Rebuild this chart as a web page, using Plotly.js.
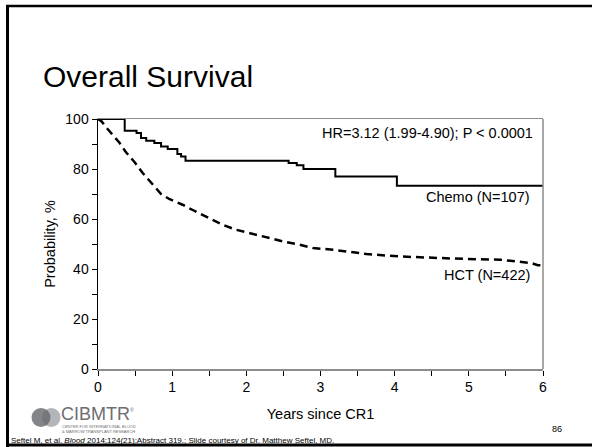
<!DOCTYPE html>
<html>
<head>
<meta charset="utf-8">
<script src="https://cdn.plot.ly/plotly-3.0.1.min.js"></script>
<style>
  html, body { margin: 0; padding: 0; background: #fff; }
  #chart { width: 592px; height: 447px; }
</style>
</head>
<body>
<div id="chart"></div>
<script>
// Chemo (solid, Kaplan-Meier step curve)
var chemoYears = [0, 0.29, 0.36, 0.52, 0.58, 0.65, 0.76, 0.85, 0.94, 1.07, 1.12, 1.18, 2.57, 2.68, 2.77, 3.2, 4.03, 6];
var chemoSurv  = [100, 100, 95.3, 94.4, 92.4, 91.3, 90.4, 89, 88, 86, 85, 83.3, 82.4, 81.5, 80, 77, 73.3, 73.3];

// HCT (dashed)
var hctYears = [0, 0.05, 0.1, 0.17, 0.29, 0.37, 0.5, 0.6, 0.72, 0.85, 0.96, 1.14, 1.27, 1.45, 1.68, 1.86, 2.13, 2.5, 2.72, 2.9, 3.17, 3.62, 4.07, 4.52, 4.97, 5.43, 5.84, 5.93, 6.0];
var hctSurv  = [100, 99, 97, 94.5, 90.5, 87, 82.5, 78.5, 74.5, 70, 68, 65.7, 63.7, 61, 57.7, 55.7, 53.7, 51, 49.7, 48.4, 47.7, 46, 45, 44.4, 44, 43.7, 42.4, 41.5, 41.5];

var xTickVals = [0, 1, 2, 3, 4, 5, 6];
var xTickText = ['0', '1', '2', '3', '4', '5', '6'];
var yTickVals = [0, 20, 40, 60, 80, 100];
var yTickText = ['0', '20', '40', '60', '80', '100'];

var chartTitle = 'Overall Survival';
var xTitle = 'Years since CR1';
var yTitle = 'Probability, %';
var hrText = 'HR=3.12 (1.99-4.90); P < 0.0001';
var chemoLabel = 'Chemo (N=107)';
var hctLabel = 'HCT (N=422)';
var logoName = 'CIBMTR';
var logoSub1 = 'CENTER FOR INTERNATIONAL BLOOD';
var logoSub2 = '&amp; MARROW TRANSPLANT RESEARCH';
var footnote = 'Seftel M, et al. <i>Blood</i> 2014;124(21):Abstract 319.; Slide courtesy of Dr. Matthew Seftel, MD.';
var slideNumber = '86';

var FONT = 'Liberation Sans, Arial, Helvetica, sans-serif';

var traces = [
  {
    x: chemoYears, y: chemoSurv, type: 'scatter', mode: 'lines', name: chemoLabel,
    line: { color: '#000', width: 2, shape: 'hv' }, hoverinfo: 'skip'
  },
  {
    x: hctYears, y: hctSurv, type: 'scatter', mode: 'lines', name: hctLabel,
    line: { color: '#000', width: 2.5, dash: '8px,5px', shape: 'linear' }, hoverinfo: 'skip'
  }
];

// paper-coordinate helpers (plot area: x 98..543 px, y 119..369 px)
function px(x) { return (x - 98) / 445; }
function py(y) { return (369 - y) / 250; }

var layout = {
  width: 592, height: 447,
  margin: { l: 98, r: 49, t: 119, b: 78 },
  paper_bgcolor: '#fff', plot_bgcolor: '#fff',
  showlegend: false,
  font: { family: FONT, color: '#000', size: 14 },
  title: {
    text: chartTitle,
    font: { family: FONT, size: 30, color: '#000' },
    xref: 'container', yref: 'container',
    x: 43 / 592, xanchor: 'left',
    y: 1 - 76 / 447, yanchor: 'middle'
  },
  xaxis: {
    range: [0, 6], tickvals: xTickVals, ticktext: xTickText,
    ticks: 'outside', ticklen: 5, tickcolor: '#000', tickwidth: 1,
    minor: { dtick: 0.5, tick0: 0, ticks: 'outside', ticklen: 5, tickcolor: '#000', tickwidth: 1, showgrid: false },
    showline: true, linecolor: '#8c8c8c', linewidth: 1.5, mirror: true,
    showgrid: false, zeroline: false,
    tickfont: { family: FONT, size: 14, color: '#000' },
    title: { text: xTitle, font: { family: FONT, size: 14.5, color: '#000' }, standoff: 14 },
    automargin: false, fixedrange: true
  },
  yaxis: {
    range: [0, 100], tickvals: yTickVals, ticktext: yTickText,
    ticks: 'outside', ticklen: 5, tickcolor: '#000', tickwidth: 1,
    minor: { dtick: 10, tick0: 0, ticks: 'outside', ticklen: 5, tickcolor: '#000', tickwidth: 1, showgrid: false },
    showline: true, linecolor: '#000', linewidth: 1.5,
    showgrid: false, zeroline: false,
    tickfont: { family: FONT, size: 14, color: '#000' },
    title: { text: yTitle, font: { family: FONT, size: 14.5, color: '#000' }, standoff: 6 },
    automargin: false, fixedrange: true
  },
  shapes: [
    // right frame of plot box (gray)
    { type: 'line', xref: 'paper', yref: 'paper', x0: 1, x1: 1, y0: 0, y1: 1, line: { color: '#8c8c8c', width: 1.5 } },
    // slide border: left, top, bottom
    { type: 'line', xref: 'paper', yref: 'paper', x0: px(7.5), x1: px(7.5), y0: py(5), y1: py(447), line: { color: '#000', width: 3 } },
    { type: 'line', xref: 'paper', yref: 'paper', x0: px(6), x1: px(600), y0: py(6), y1: py(6), line: { color: '#000', width: 2.5 } },
    { type: 'line', xref: 'paper', yref: 'paper', x0: px(6), x1: px(600), y0: py(445), y1: py(445), line: { color: '#000', width: 3 } },
    // CIBMTR logo circles
    { type: 'circle', xref: 'paper', yref: 'paper', x0: px(42), x1: px(60.5), y0: py(408), y1: py(427), fillcolor: '#b3b5b8', line: { width: 0 } },
    { type: 'circle', xref: 'paper', yref: 'paper', x0: px(31.5), x1: px(50.5), y0: py(408), y1: py(427), fillcolor: 'rgba(100,102,106,0.8)', line: { width: 0 } }
  ],
  annotations: [
    { text: hrText, xref: 'paper', yref: 'paper', x: px(535), y: py(132.5), xanchor: 'right', yanchor: 'middle', showarrow: false, font: { family: FONT, size: 14.5, color: '#000' } },
    { text: chemoLabel, xref: 'paper', yref: 'paper', x: px(532), y: py(196.5), xanchor: 'right', yanchor: 'middle', showarrow: false, font: { family: FONT, size: 14.5, color: '#000' } },
    { text: hctLabel, xref: 'paper', yref: 'paper', x: px(532), y: py(275), xanchor: 'right', yanchor: 'middle', showarrow: false, font: { family: FONT, size: 14.5, color: '#000' } },
    // logo wordmark and its two small lines
    { text: logoName, xref: 'paper', yref: 'paper', x: px(59.5), y: py(414.3), xanchor: 'left', yanchor: 'middle', showarrow: false, borderpad: 0, font: { family: FONT, size: 18, color: '#6d6e71' } },
    { text: logoSub1, xref: 'paper', yref: 'paper', x: px(60.5), y: py(426.8), xanchor: 'left', yanchor: 'middle', showarrow: false, borderpad: 0, font: { family: FONT, size: 4, color: '#6d6e71' } },
    { text: logoSub2, xref: 'paper', yref: 'paper', x: px(60.5), y: py(431.2), xanchor: 'left', yanchor: 'middle', showarrow: false, borderpad: 0, font: { family: FONT, size: 4, color: '#6d6e71' } },
    { text: '®', xref: 'paper', yref: 'paper', x: px(132), y: py(410), xanchor: 'center', yanchor: 'middle', showarrow: false, borderpad: 0, font: { family: FONT, size: 5, color: '#6d6e71' } },
    { text: slideNumber, xref: 'paper', yref: 'paper', x: px(557), y: py(428.5), xanchor: 'center', yanchor: 'middle', showarrow: false, font: { family: FONT, size: 9, color: '#000' } },
    { text: footnote, xref: 'paper', yref: 'paper', x: px(10), y: py(440.5), xanchor: 'left', yanchor: 'middle', showarrow: false, borderpad: 0, font: { family: FONT, size: 8, color: '#000' } }
  ]
};

Plotly.newPlot('chart', traces, layout, { staticPlot: true, displayModeBar: false });
</script>
</body>
</html>
